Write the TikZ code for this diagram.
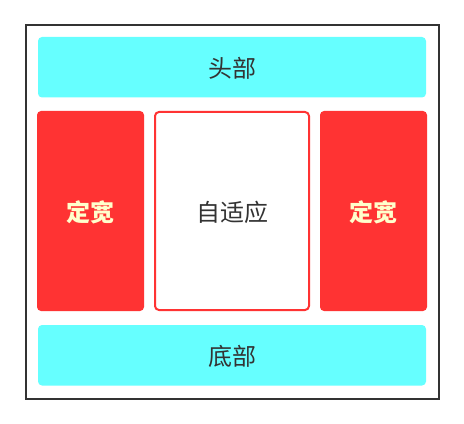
\documentclass[tikz,border=0pt]{standalone}
\usepackage{fontspec}
\newfontfamily\cjk{Noto Sans CJK SC}
\definecolor{cyanbox}{HTML}{66FFFF}
\definecolor{redbox}{HTML}{FF3333}
\definecolor{darkline}{HTML}{333333}
\definecolor{paleyellow}{HTML}{FFFFCC}
\begin{document}
\begin{tikzpicture}[x=0.75pt,y=-0.75pt,
  outerbox/.style={draw=darkline,line width=1.5pt},
  bar/.style={fill=cyanbox,rounded corners=3pt},
  fixedbox/.style={fill=redbox,rounded corners=3pt},
  flexbox/.style={draw=redbox,fill=white,line width=1.5pt,rounded corners=3pt},
  lbl/.style={font=\cjk\fontsize{18pt}{21pt}\selectfont,text=darkline},
  fixedlbl/.style={font=\cjk\bfseries\fontsize{18pt}{21pt}\selectfont,text=paleyellow}]
\useasboundingbox (0,0) rectangle (464,424);
\draw[outerbox] (25.5,25) rectangle (438.5,398.5);
\path[bar] (38,37) rectangle (426,97.5);
\path[fixedbox] (37,111) rectangle (144,311);
\draw[flexbox] (155,112) rectangle (309,310);
\path[fixedbox] (320,111) rectangle (427,311);
\path[bar] (38,325) rectangle (426,385.5);
\node[lbl] (head) at (232,68) {头部};
\node[fixedlbl] (left) at (90.5,212) {定宽};
\node[lbl] (mid) at (232,212) {自适应};
\node[fixedlbl] (right) at (373.5,212) {定宽};
\node[lbl] (foot) at (232,356) {底部};
\end{tikzpicture}
\end{document}
